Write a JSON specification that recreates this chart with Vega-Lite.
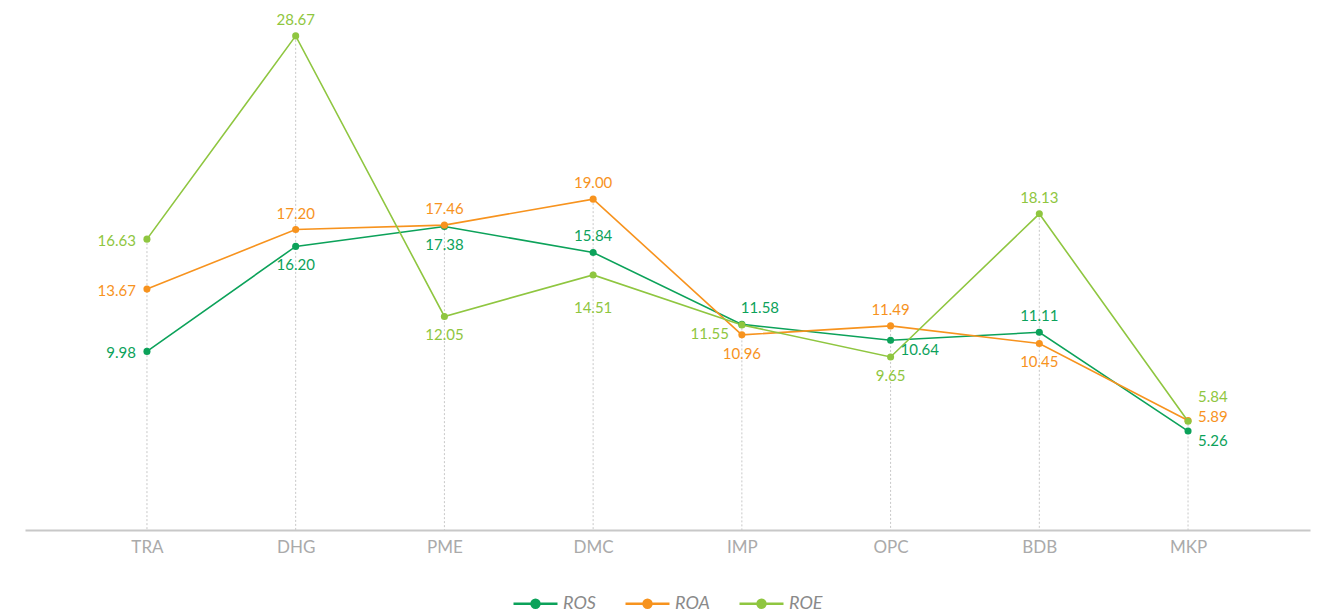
{
  "$schema": "https://vega.github.io/schema/vega-lite/v6.json",
  "width": 1285,
  "height": 525,
  "padding": {"left": 25, "top": 5, "right": 16, "bottom": 0},
  "background": "white",
  "config": {
    "view": {"stroke": null},
    "font": "Lato",
    "text": {"font": "Lato"}
  },
  "data": {
    "values": [
      {"cat": "TRA", "series": "ROS", "value": 9.98},
      {"cat": "TRA", "series": "ROA", "value": 13.67},
      {"cat": "TRA", "series": "ROE", "value": 16.63},
      {"cat": "DHG", "series": "ROS", "value": 16.20},
      {"cat": "DHG", "series": "ROA", "value": 17.20},
      {"cat": "DHG", "series": "ROE", "value": 28.67},
      {"cat": "PME", "series": "ROS", "value": 17.38},
      {"cat": "PME", "series": "ROA", "value": 17.46},
      {"cat": "PME", "series": "ROE", "value": 12.05},
      {"cat": "DMC", "series": "ROS", "value": 15.84},
      {"cat": "DMC", "series": "ROA", "value": 19.00},
      {"cat": "DMC", "series": "ROE", "value": 14.51},
      {"cat": "IMP", "series": "ROS", "value": 11.58},
      {"cat": "IMP", "series": "ROA", "value": 10.96},
      {"cat": "IMP", "series": "ROE", "value": 11.55},
      {"cat": "OPC", "series": "ROS", "value": 10.64},
      {"cat": "OPC", "series": "ROA", "value": 11.49},
      {"cat": "OPC", "series": "ROE", "value": 9.65},
      {"cat": "BDB", "series": "ROS", "value": 11.11},
      {"cat": "BDB", "series": "ROA", "value": 10.45},
      {"cat": "BDB", "series": "ROE", "value": 18.13},
      {"cat": "MKP", "series": "ROS", "value": 5.26},
      {"cat": "MKP", "series": "ROA", "value": 5.89},
      {"cat": "MKP", "series": "ROE", "value": 5.84}
    ]
  },
  "encoding": {
    "x": {
      "field": "cat",
      "type": "nominal",
      "sort": null,
      "scale": {"type": "point", "padding": 0.82},
      "axis": {
        "title": null,
        "ticks": false,
        "domainColor": "#c8c8c8",
        "domainWidth": 2,
        "labelColor": "#aaaaaa",
        "labelFontSize": 17,
        "labelFont": "Lato",
        "labelPadding": 9,
        "labelAngle": 0,
        "grid": false
      }
    }
  },
  "layer": [
    {
      "mark": {"type": "rule", "color": "#c8c8c8", "strokeDash": [2, 2], "strokeWidth": 1},
      "encoding": {
        "y": {"aggregate": "max", "field": "value", "type": "quantitative", "scale": {"domain": [-0.6, 30.5], "nice": false, "zero": false}, "axis": null},
        "y2": {"datum": -0.6}
      }
    },
    {
      "mark": {"type": "line", "strokeWidth": 1.6},
      "encoding": {
        "y": {"field": "value", "type": "quantitative"},
        "stroke": {"field": "series", "type": "nominal", "scale": {"domain": ["ROS", "ROA", "ROE"], "range": ["#0ca25a", "#f7931e", "#8fc640"]},
          "legend": {
            "title": null,
            "orient": "none",
            "legendX": 487,
            "legendY": 575,
            "direction": "horizontal",
            "symbolType": "M-1,0L1,0M-0.18,0A0.18,0.18,0,1,1,0.18,0A0.18,0.18,0,1,1,-0.18,0Z",
            "symbolSize": 1936,
            "symbolStrokeWidth": 2.5,
            "labelFont": "Lato",
            "labelFontSize": 18,
            "labelFontStyle": "italic",
            "labelColor": "#8a8a8a",
            "columnPadding": 24,
            "labelOffset": 4
          }
        },
        "detail": {"field": "series"}
      }
    },
    {
      "mark": {"type": "point", "filled": true, "size": 50, "opacity": 1},
      "encoding": {
        "y": {"field": "value", "type": "quantitative"},
        "fill": {"field": "series", "type": "nominal", "scale": {"domain": ["ROS", "ROA", "ROE"], "range": ["#0ca25a", "#f7931e", "#8fc640"]}, "legend": null}
      }
    },
    {
      "transform": [{"filter": "indexof(['TRA|ROS','TRA|ROA','TRA|ROE'], datum.cat + '|' + datum.series) >= 0"}],
      "mark": {"type": "text", "align": "right", "baseline": "middle", "dx": -11, "dy": 2, "fontSize": 15},
      "encoding": {
        "y": {"field": "value", "type": "quantitative"},
        "text": {"field": "value", "type": "quantitative", "format": ".2f"},
        "fill": {"field": "series", "type": "nominal", "legend": null}
      }
    },
    {
      "transform": [{"filter": "indexof(['IMP|ROE'], datum.cat + '|' + datum.series) >= 0"}],
      "mark": {"type": "text", "align": "right", "baseline": "middle", "dx": -13, "dy": 9, "fontSize": 15},
      "encoding": {
        "y": {"field": "value", "type": "quantitative"},
        "text": {"field": "value", "type": "quantitative", "format": ".2f"},
        "fill": {"field": "series", "type": "nominal", "legend": null}
      }
    },
    {
      "transform": [{"filter": "indexof(['DHG|ROE','DHG|ROA','PME|ROA','DMC|ROA','DMC|ROS','OPC|ROA','BDB|ROE','BDB|ROS'], datum.cat + '|' + datum.series) >= 0"}],
      "mark": {"type": "text", "align": "center", "baseline": "middle", "dy": -16, "fontSize": 15},
      "encoding": {
        "y": {"field": "value", "type": "quantitative"},
        "text": {"field": "value", "type": "quantitative", "format": ".2f"},
        "fill": {"field": "series", "type": "nominal", "legend": null}
      }
    },
    {
      "transform": [{"filter": "indexof(['IMP|ROS'], datum.cat + '|' + datum.series) >= 0"}],
      "mark": {"type": "text", "align": "center", "baseline": "middle", "dx": 18, "dy": -16, "fontSize": 15},
      "encoding": {
        "y": {"field": "value", "type": "quantitative"},
        "text": {"field": "value", "type": "quantitative", "format": ".2f"},
        "fill": {"field": "series", "type": "nominal", "legend": null}
      }
    },
    {
      "transform": [{"filter": "indexof(['DHG|ROS','PME|ROS','PME|ROE','IMP|ROA','OPC|ROE','BDB|ROA'], datum.cat + '|' + datum.series) >= 0"}],
      "mark": {"type": "text", "align": "center", "baseline": "middle", "dy": 19, "fontSize": 15},
      "encoding": {
        "y": {"field": "value", "type": "quantitative"},
        "text": {"field": "value", "type": "quantitative", "format": ".2f"},
        "fill": {"field": "series", "type": "nominal", "legend": null}
      }
    },
    {
      "transform": [{"filter": "indexof(['DMC|ROE'], datum.cat + '|' + datum.series) >= 0"}],
      "mark": {"type": "text", "align": "center", "baseline": "middle", "dy": 33, "fontSize": 15},
      "encoding": {
        "y": {"field": "value", "type": "quantitative"},
        "text": {"field": "value", "type": "quantitative", "format": ".2f"},
        "fill": {"field": "series", "type": "nominal", "legend": null}
      }
    },
    {
      "transform": [{"filter": "indexof(['OPC|ROS','MKP|ROS'], datum.cat + '|' + datum.series) >= 0"}],
      "mark": {"type": "text", "align": "left", "baseline": "middle", "dx": 10, "dy": 10, "fontSize": 15},
      "encoding": {
        "y": {"field": "value", "type": "quantitative"},
        "text": {"field": "value", "type": "quantitative", "format": ".2f"},
        "fill": {"field": "series", "type": "nominal", "legend": null}
      }
    },
    {
      "transform": [{"filter": "indexof(['MKP|ROA'], datum.cat + '|' + datum.series) >= 0"}],
      "mark": {"type": "text", "align": "left", "baseline": "middle", "dx": 10, "dy": -3, "fontSize": 15},
      "encoding": {
        "y": {"field": "value", "type": "quantitative"},
        "text": {"field": "value", "type": "quantitative", "format": ".2f"},
        "fill": {"field": "series", "type": "nominal", "legend": null}
      }
    },
    {
      "transform": [{"filter": "indexof(['MKP|ROE'], datum.cat + '|' + datum.series) >= 0"}],
      "mark": {"type": "text", "align": "left", "baseline": "middle", "dx": 10, "dy": -24, "fontSize": 15},
      "encoding": {
        "y": {"field": "value", "type": "quantitative"},
        "text": {"field": "value", "type": "quantitative", "format": ".2f"},
        "fill": {"field": "series", "type": "nominal", "legend": null}
      }
    }
  ]
}
